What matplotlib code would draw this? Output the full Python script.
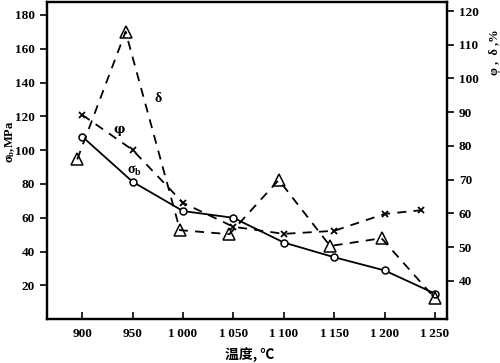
import matplotlib
matplotlib.use("Agg")
from matplotlib import pyplot as plt

# temperature, deg C
temp_sigma = [900, 950, 1000, 1050, 1100, 1150, 1200, 1250]
sigma_b = [108, 81.3, 64, 60, 45.4, 36.7, 28.9, 15.2]  # MPa, left axis

temp_phi = [900, 950, 1000, 1050, 1100, 1150, 1200, 1236]
phi = [89.2, 78.8, 63.1, 56.0, 53.9, 54.8, 59.8, 60.9]  # %, right axis

temp_delta = [895, 943, 997, 1046, 1095, 1146, 1197, 1250]
delta = [76.0, 113.9, 55.0, 53.8, 69.9, 50.3, 52.6, 34.8]  # %, right axis

x_ticks = [900, 950, 1000, 1050, 1100, 1150, 1200, 1250]
x_labels = ["900", "950", "1\u2009000", "1\u2009050", "1\u2009100", "1\u2009150", "1\u2009200", "1\u2009250"]

plt.rcParams['font.family'] = ['Liberation Serif', 'DejaVu Serif', 'Noto Sans CJK SC']
plt.rcParams['font.weight'] = 'bold'
plt.rcParams['mathtext.fontset'] = 'custom'
plt.rcParams['mathtext.rm'] = 'Liberation Serif'
plt.rcParams['mathtext.it'] = 'Liberation Serif'

fig = plt.figure(figsize=(5, 3.63), dpi=100)
ax = fig.add_axes([0.094, 0.1204, 0.80, 0.8741])
ax2 = ax.twinx()

dash = (0, (5, 4))
ax.plot(temp_sigma, sigma_b, color="black", lw=1.3, marker="o", ms=5,
        mfc="white", mec="black", mew=1.1)
ax2.plot(temp_phi, phi, color="black", lw=1.3, ls=dash, marker="x", ms=4.5, mew=1.3)
ax2.plot(temp_delta, delta, color="black", lw=1.3, ls=dash, marker="^", ms=8,
         mfc="none", mec="black", mew=1.1)

ax.set_xlim(865, 1262)
ax.set_ylim(0, 187.6)
ax2.set_ylim(28.55, 122.7)

ax.set_xticks(x_ticks)
ax.set_xticklabels(x_labels)
ax.set_yticks(range(20, 181, 20))
ax2.set_yticks(range(40, 121, 10))

ax.tick_params(axis="x", direction="in", length=5, width=1.2, labelsize=9.5, pad=6)
ax.tick_params(axis="y", direction="out", length=5, width=1.2, labelsize=9.5)
ax2.tick_params(axis="y", direction="out", length=5, width=1.2, labelsize=9.5)
for a in (ax, ax2):
    for s in a.spines.values():
        s.set_linewidth(1.6)

ax.text(952, 88, r"$\sigma_{\mathregular{b}}$", fontsize=10, ha="center", va="center")
ax2.text(975, 94, "\u03b4", fontsize=10, ha="center", va="center")
ax2.text(937, 85, "\u03c6", fontsize=9, ha="center", va="center",
         family=['DejaVu Serif'])

fig.text(0.02, 0.61, r"$\sigma_{\mathregular{b}}$,MPa", rotation=90, ha="center", va="center", fontsize=9)
fig.text(0.99, 0.855, "\u03c6 ,  \u03b4 ,%", rotation=90, ha="center", va="center", fontsize=9)
fig.text(0.5, 0.022, "温度, ℃", ha="center", va="center", fontsize=10,
         family=['Noto Sans CJK SC'])

fig.savefig("out.png", dpi=100)
